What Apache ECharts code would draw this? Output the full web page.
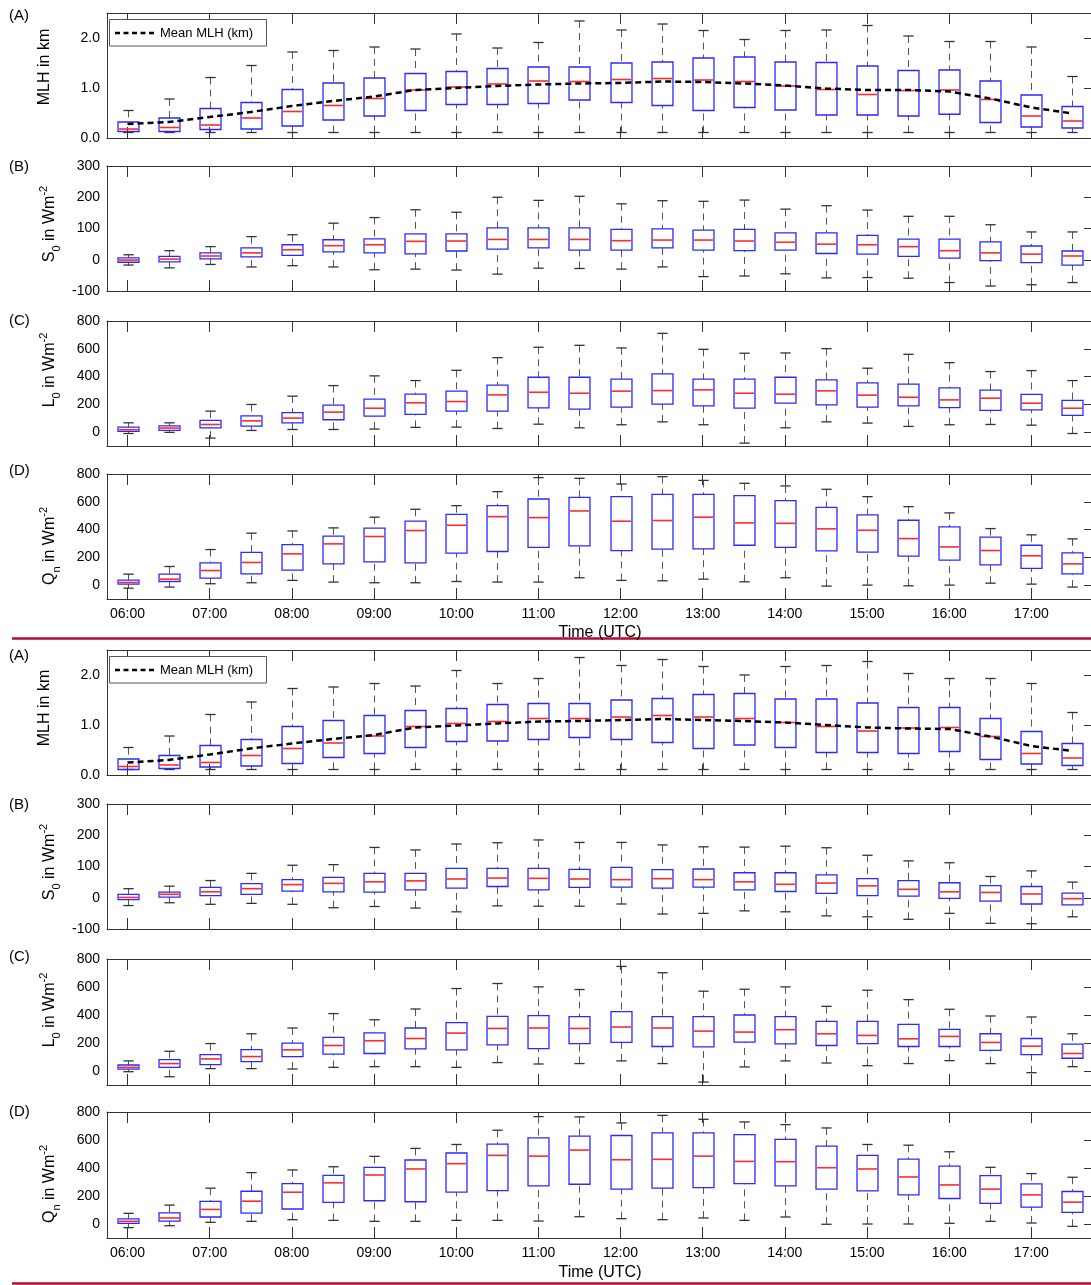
<!DOCTYPE html>
<html><head><meta charset="utf-8">
<script src="https://cdn.jsdelivr.net/npm/echarts@6/dist/echarts.min.js"></script>
<style>html,body{margin:0;padding:0;background:#fff;overflow:hidden;}#c{width:1094px;height:1285px;}</style>
</head><body><div id="c"></div><script>
// ---------- data ----------
const times = ['06:00','06:30','07:00','07:30','08:00','08:30','09:00','09:30','10:00','10:30','11:00','11:30',
               '12:00','12:30','13:00','13:30','14:00','14:30','15:00','15:30','16:00','16:30','17:00','17:30'];
const mlhTicks = [0, 1, 2];
const s0Ticks = [-100, 0, 100, 200, 300];
const fluxTicks = [0, 200, 400, 600, 800];

// rows: [lower whisker, Q1, median, Q3, upper whisker]
const topMLH = [[0.11,0.13,0.18,0.32,0.55],[0.11,0.13,0.21,0.40,0.78],[0.11,0.17,0.26,0.59,1.21],[0.11,0.18,0.40,0.71,1.45],
 [0.11,0.24,0.53,0.97,1.72],[0.11,0.36,0.65,1.10,1.75],[0.11,0.44,0.79,1.20,1.82],[0.11,0.55,0.96,1.29,1.78],
 [0.11,0.67,1.02,1.33,2.08],[0.11,0.67,1.08,1.39,1.80],[0.11,0.69,1.14,1.42,1.91],[0.11,0.76,1.13,1.42,2.34],
 [0.11,0.71,1.17,1.50,2.16],[0.11,0.65,1.19,1.52,2.28],[0.11,0.55,1.16,1.60,2.15],[0.11,0.61,1.13,1.62,1.97],
 [0.11,0.56,1.04,1.52,2.15],[0.11,0.46,0.97,1.51,2.16],[0.11,0.46,0.87,1.44,2.25],[0.11,0.44,0.95,1.35,2.04],
 [0.11,0.475,0.96,1.36,1.93],[0.11,0.31,0.77,1.14,1.93],[0.11,0.22,0.44,0.86,1.82],[0.11,0.20,0.34,0.63,1.23]];
const topMeanMLH = [0.28,0.32,0.42,0.52,0.64,0.74,0.83,0.96,1.00,1.04,1.07,1.09,1.10,1.13,1.12,1.09,1.05,0.99,0.96,0.96,0.93,0.79,0.61,0.49];
const topS0 = [[-17,-8,-1,6,16],[-26,-7,2,11,29],[-15,3,12,22,42],[-23,9,22,38,74],[-19,14,32,48,80],[-23,25,45,64,117],
 [-32,22,48,67,135],[-30,19,59,83,160],[-33,28,60,83,152],[-46,34,65,102,200],[-27,38,65,102,190],[-28,31,65,102,203],
 [-30,31,61,97,179],[-23,38,63,99,189],[-54,31,63,95,187],[-52,29,60,97,191],[-45,31,56,86,162],[-58,20,50,86,173],
 [-57,18,48,78,159],[-59,11,42,66,139],[-73,5,29,66,139],[-84,-3,22,57,112],[-80,-9,18,44,89],[-73,-17,12,28,89]];
const topL0 = [[-10,5,17,36,67],[-2,12,29,45,67],[-43,31,55,84,151],[12,43,81,117,199],[19,67,101,141,259],[19,89,144,194,335],
 [22,115,172,237,405],[34,127,211,273,371],[36,151,220,295,445],[26,151,268,338,536],[57,175,287,395,611],[31,165,280,395,625],
 [53,180,295,381,606],[74,201,299,419,711],[53,189,304,381,596],[-79,172,280,381,568],[31,208,273,395,570],[74,196,297,376,601],
 [65,180,266,354,460],[41,189,251,345,560],[53,177,232,319,500],[55,156,244,302,436],[50,160,208,271,443],[-10,120,172,228,371]];
const topQn = [[-22,7,19,36,79],[-14,26,43,79,134],[10,50,105,160,256],[17,81,163,235,374],[34,108,225,292,390],[22,153,297,352,412],
 [17,168,350,410,489],[17,160,393,460,546],[26,230,431,510,572],[22,242,493,572,673],[22,271,486,620,774],[53,283,534,632,769],
 [34,249,460,637,728],[31,259,465,654,781],[43,261,489,654,754],[24,287,448,644,733],[53,271,445,608,714],[-7,247,405,560,690],
 [0,237,395,505,637],[-5,208,335,467,565],[0,180,275,419,520],[14,146,249,345,407],[7,120,211,287,362],[-14,81,153,232,333]];

const botMLH = [[0.11,0.11,0.17,0.32,0.55],[0.11,0.13,0.20,0.39,0.78],[0.11,0.16,0.25,0.59,1.21],[0.11,0.18,0.39,0.71,1.46],
 [0.11,0.23,0.53,0.97,1.73],[0.11,0.35,0.64,1.09,1.76],[0.11,0.43,0.78,1.19,1.83],[0.11,0.55,0.97,1.29,1.78],
 [0.11,0.67,1.03,1.33,2.09],[0.11,0.68,1.07,1.41,1.83],[0.11,0.71,1.13,1.43,1.93],[0.11,0.75,1.13,1.43,2.35],
 [0.11,0.71,1.16,1.50,2.19],[0.11,0.65,1.19,1.53,2.31],[0.11,0.53,1.16,1.61,2.17],[0.11,0.60,1.13,1.63,2.00],
 [0.11,0.55,1.05,1.52,2.17],[0.11,0.45,0.97,1.52,2.19],[0.11,0.45,0.88,1.44,2.27],[0.11,0.43,0.94,1.35,2.03],
 [0.11,0.47,0.95,1.35,1.93],[0.11,0.31,0.77,1.13,1.93],[0.11,0.22,0.43,0.87,1.83],[0.11,0.19,0.34,0.63,1.25]];
const botMeanMLH = [0.25,0.30,0.41,0.53,0.63,0.72,0.80,0.95,0.99,1.03,1.07,1.08,1.10,1.12,1.10,1.08,1.05,1.00,0.95,0.93,0.92,0.77,0.58,0.48];
const botS0 = [[-25,-6,1,11,29],[-16,2,11,18,37],[-21,7,19,33,55],[-18,11,29,45,78],[-21,21,42,58,104],[-32,19,46,65,106],
 [-28,18,51,78,161],[-33,25,54,78,153],[-45,31,60,94,172],[-26,36,63,94,176],[-27,25,62,94,185],[-27,33,60,91,177],
 [-20,34,58,97,177],[-52,31,61,90,169],[-50,34,58,92,163],[-42,25,51,80,162],[-45,20,43,80,165],[-58,14,47,73,160],
 [-61,7,38,61,136],[-69,5,27,55,118],[-50,-2,19,48,112],[-82,-11,17,39,68],[-83,-20,12,36,86],[-61,-23,-3,15,50]];
const botL0 = [[-5,14,26,43,72],[-41,26,53,81,141],[17,46,86,117,196],[17,67,103,153,266],[14,103,151,199,307],[26,120,182,240,410],
 [31,125,216,273,366],[31,158,232,307,443],[26,151,271,345,589],[60,187,304,390,625],[50,160,307,395,601],[53,196,304,388,582],
 [72,204,314,424,747],[53,175,307,388,702],[-79,172,285,388,570],[29,206,278,400,584],[72,194,295,388,601],[57,182,266,354,462],
 [38,196,254,354,577],[53,175,230,333,510],[74,175,247,297,441],[53,148,204,266,393],[-12,117,177,232,386],[31,91,125,192,266]];
const botQn = [[-26,5,19,36,76],[-12,21,43,80,135],[12,50,104,161,256],[19,78,163,234,367],[31,107,227,289,386],[26,154,294,348,409],
 [19,166,350,405,483],[19,159,393,457,540],[26,227,431,507,568],[26,239,490,570,670],[21,272,485,615,767],[52,284,528,627,765],
 [38,249,459,632,722],[31,256,462,651,776],[43,260,485,651,748],[26,289,447,639,729],[50,272,445,604,710],[-2,249,402,556,686],
 [0,237,393,490,568],[0,208,336,464,563],[5,182,279,414,516],[19,147,249,346,405],[7,121,208,286,360],[-17,83,156,232,334]];

// ---------- layout ----------
const FONT = '"Liberation Sans", Arial, Helvetica, sans-serif';
const GL = 107, GW = 986;
const scales = {
  mlh: {min:0, max:2.5, labels:mlhTicks, ticks:mlhTicks, fmt:v => Number(v).toFixed(1)},
  s0:  {min:-100, max:300, labels:s0Ticks, ticks:s0Ticks.filter(v => v > -100 && v < 300), fmt:v => String(v)},
  l0:  {min:-100, max:800, labels:fluxTicks, ticks:fluxTicks.filter(v => v < 800), fmt:v => String(v)},
  qn:  {min:-100, max:800, labels:fluxTicks, ticks:fluxTicks.filter(v => v < 800), fmt:v => String(v)}
};
const titles = {
  mlh: 'MLH in km',
  s0: '{n|S}{sub|0}{n| in Wm}{sup|-2}',
  l0: '{n|L}{sub|0}{n| in Wm}{sup|-2}',
  qn: '{n|Q}{sub|n}{n| in Wm}{sup|-2}'
};
const panels = [
  {rows:topMLH, mean:topMeanMLH, kind:'mlh', tag:'(A)', top:13,   h:125, showX:false, tagY:16,   titleX:45, titleY:67},
  {rows:topS0,  kind:'s0', tag:'(B)', top:166,  h:125, showX:false, tagY:167,  titleX:50, titleY:224},
  {rows:topL0,  kind:'l0', tag:'(C)', top:321,  h:125, showX:false, tagY:321,  titleX:50, titleY:370},
  {rows:topQn,  kind:'qn', tag:'(D)', top:474,  h:125, showX:true,  tagY:471,  titleX:50, titleY:546},
  {rows:botMLH, mean:botMeanMLH, kind:'mlh', tag:'(A)', top:650,  h:125, showX:false, tagY:656,  titleX:45, titleY:708},
  {rows:botS0,  kind:'s0', tag:'(B)', top:804,  h:125, showX:false, tagY:805,  titleX:50, titleY:862},
  {rows:botL0,  kind:'l0', tag:'(C)', top:959,  h:126, showX:false, tagY:957,  titleX:50, titleY:1010},
  {rows:botQn,  kind:'qn', tag:'(D)', top:1112, h:126, showX:true,  tagY:1112, titleX:50, titleY:1184}
];

const AX = '#333';
function renderBox(params, api) {
  const k = api.value(0);
  const lo = api.coord([k, api.value(1)]);
  const q1 = api.coord([k, api.value(2)]);
  const md = api.coord([k, api.value(3)]);
  const q3 = api.coord([k, api.value(4)]);
  const hi = api.coord([k, api.value(5)]);
  const band = api.size([1, 0])[0];
  const bw = band * 0.51, cw = band * 0.25;
  const cx = Math.round(md[0]) + 0.5;
  const wh = {stroke:'#555', lineWidth:1, lineDash:[7,5]};
  const cap = {stroke:'#333', lineWidth:1.3};
  return {type:'group', children:[
    {type:'line', shape:{x1:cx, y1:hi[1], x2:cx, y2:q3[1]}, style:wh},
    {type:'line', shape:{x1:cx, y1:lo[1], x2:cx, y2:q1[1]}, style:wh},
    {type:'line', shape:{x1:cx-cw/2, y1:hi[1], x2:cx+cw/2, y2:hi[1]}, style:cap},
    {type:'line', shape:{x1:cx-cw/2, y1:lo[1], x2:cx+cw/2, y2:lo[1]}, style:cap},
    {type:'rect', shape:{x:cx-bw/2, y:q3[1], width:bw, height:q1[1]-q3[1]}, style:{fill:'none', stroke:'#2a2aff', lineWidth:1.3}},
    {type:'line', shape:{x1:cx-bw/2+1, y1:md[1], x2:cx+bw/2-1, y2:md[1]}, style:{stroke:'#ff2a2a', lineWidth:1.6}}
  ]};
}

const grid = [], xAxis = [], yAxis = [], series = [], graphic = [];
panels.forEach((p, i) => {
  const sc = scales[p.kind];
  grid.push({left:GL, width:GW, top:p.top, height:p.h});
  const xa = (pos, show) => ({
    type:'category', gridIndex:i, position:pos, data:times, boundaryGap:true,
    axisLine:{show:true, onZero:false, lineStyle:{color:AX, width:1}},
    axisTick:{show:true, inside:true, length:11, interval:1, alignWithLabel:true, lineStyle:{color:AX}},
    axisLabel:{show:show, interval:1, fontSize:14, color:'#000', margin:8, fontFamily:FONT},
    splitLine:{show:false}
  });
  xAxis.push(xa('bottom', p.showX));
  xAxis.push(xa('top', false));
  yAxis.push({
    type:'value', gridIndex:i, position:'left', min:sc.min, max:sc.max,
    axisLine:{show:true, onZero:false, lineStyle:{color:AX, width:1}},
    axisTick:{show:false},
    axisLabel:{customValues:sc.labels, formatter:sc.fmt, fontSize:14, color:'#000', margin:7, fontFamily:FONT},
    splitLine:{show:false}
  });
  yAxis.push({
    type:'value', gridIndex:i, position:'right', min:sc.min, max:sc.max,
    axisLine:{show:true, onZero:false, lineStyle:{color:AX, width:1}},
    axisTick:{show:true, inside:true, length:9, customValues:sc.ticks, lineStyle:{color:AX}},
    axisLabel:{show:false},
    splitLine:{show:false}
  });
  series.push({
    type:'custom', xAxisIndex:2*i, yAxisIndex:2*i, silent:true, z:3,
    data:p.rows.map((r, k) => [k].concat(r)),
    encode:{x:0, y:[1,2,3,4,5]},
    renderItem:renderBox
  });
  if (p.mean) {
    series.push({
      type:'line', xAxisIndex:2*i, yAxisIndex:2*i, data:p.mean, symbol:'none', silent:true, z:5,
      lineStyle:{color:'#000', width:2.5, type:[6,4]}
    });
    graphic.push({type:'rect', shape:{x:109.5, y:p.top+6.5, width:157, height:26.5}, style:{fill:'#fff', stroke:'#555', lineWidth:1}, z:10});
    graphic.push({type:'line', shape:{x1:115, y1:p.top+20, x2:157, y2:p.top+20}, style:{stroke:'#000', lineWidth:2.5, lineDash:[5,3.5]}, z:11});
    graphic.push({type:'text', x:160, y:p.top+20, z:11, style:{text:'Mean MLH (km)', font:'13px ' + FONT, fill:'#000', textAlign:'left', textVerticalAlign:'middle'}});
  }
  graphic.push({type:'text', x:9, y:p.tagY, style:{text:p.tag, font:'15px ' + FONT, fill:'#000', textAlign:'left', textVerticalAlign:'middle'}});
  graphic.push({type:'text', x:p.titleX, y:p.titleY, rotation:Math.PI/2, style:{
    text:titles[p.kind], font:'16px ' + FONT, fill:'#000', textAlign:'center', textVerticalAlign:'middle',
    rich:{
      n:{fontSize:16, fontFamily:FONT, lineHeight:24, verticalAlign:'middle', fill:'#000', color:'#000'},
      sub:{fontSize:11, fontFamily:FONT, lineHeight:12, verticalAlign:'bottom', fill:'#000', color:'#000'},
      sup:{fontSize:11, fontFamily:FONT, lineHeight:12, verticalAlign:'top', fill:'#000', color:'#000'}
    }}});
});

[638.5, 1283.5].forEach(y => {
  graphic.push({type:'line', shape:{x1:12, y1:y, x2:1094, y2:y}, style:{stroke:'#b40a32', lineWidth:2.5}, z:1});
});
[633, 1273].forEach(y => {
  graphic.push({type:'text', x:600, y:y, z:2, style:{text:'Time (UTC)', font:'16px ' + FONT, fill:'#000', textAlign:'center', textVerticalAlign:'middle'}});
});

const chart = echarts.init(document.getElementById('c'), null, {renderer:'canvas'});
chart.setOption({
  animation:false,
  backgroundColor:'#fff',
  textStyle:{fontFamily:FONT},
  grid, xAxis, yAxis, series, graphic
});
</script></body></html>
